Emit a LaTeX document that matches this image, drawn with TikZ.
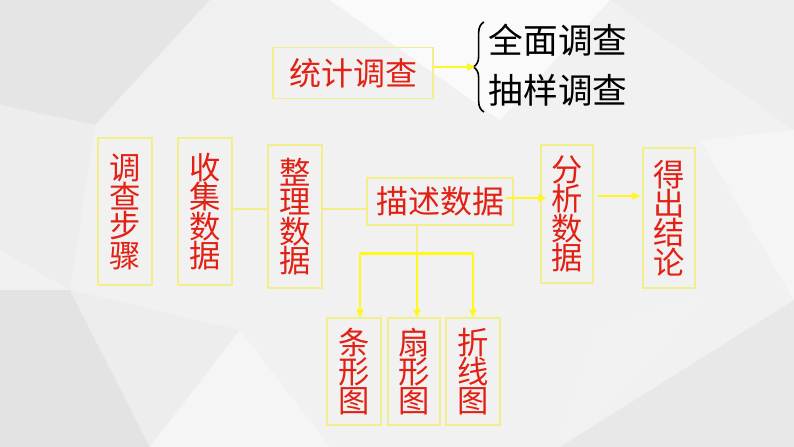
\documentclass[tikz,border=0pt]{standalone}
\usepackage{fontspec}
\newfontfamily\cjk{Noto Sans CJK SC}
\usetikzlibrary{decorations.pathreplacing,calc,arrows.meta}
\definecolor{txtred}{RGB}{226,32,20}
\definecolor{boxy}{RGB}{242,238,140}
\definecolor{arry}{RGB}{255,248,30}
\definecolor{bg}{RGB}{241,241,241}
\begin{document}
\begin{tikzpicture}[x=0.75pt,y=-0.75pt,
  bsize/.style 2 args={minimum width=#1*0.75pt, minimum height=#2*0.75pt},
  vbox/.style={draw=boxy, line width=1.1pt, text=txtred, inner sep=0pt,
    align=center, font=\cjk\fontsize{23.5}{22}\selectfont},
  hbox/.style={draw=boxy, line width=1.1pt, text=txtred, inner sep=0pt,
    font=\cjk\fontsize{24}{26}\selectfont},
  btext/.style={text=black, inner sep=0pt, font=\cjk\fontsize{26}{28}\selectfont},
  arr/.style={draw=arry, line width=2.2pt, -{Triangle[length=6pt,width=5.5pt]}},
  barline/.style={draw=arry, line width=2.2pt},
  thinline/.style={draw=boxy, line width=1.5pt},
  poly/.style={draw=none}]
% background
\fill[bg] (0,0) rectangle (794,447);
\fill[poly,fill=black!10] (0,0) -- (210,0) -- (95,125) -- (0,105) -- cycle;
\fill[poly,fill=black!7] (0,105) -- (95,125) -- (70,290) -- (0,250) -- cycle;
\fill[poly,fill=black!6] (210,0) -- (330,0) -- (95,125) -- cycle;
\fill[poly,fill=black!11] (0,290) -- (70,290) -- (150,447) -- (0,447) -- cycle;
\fill[poly,fill=black!7] (70,290) -- (240,330) -- (150,447) -- cycle;
\fill[poly,fill=black!4] (240,330) -- (330,447) -- (150,447) -- cycle;
\fill[poly,fill=black!7] (610,0) -- (794,0) -- (794,130) -- cycle;
\fill[poly,fill=black!4] (700,140) -- (794,130) -- (794,300) -- cycle;
\fill[poly,fill=black!9] (560,447) -- (794,300) -- (794,447) -- cycle;
\fill[poly,fill=black!5] (600,330) -- (700,300) -- (560,447) -- cycle;
\fill[poly,fill=black!2] (330,0) -- (610,0) -- (500,120) -- cycle;
\useasboundingbox (0,0) rectangle (794,447);

% top: statistical survey
\node[hbox, bsize={160}{51}] (tj) at (353,73) {统计调查};
\node[btext] (qm) at (558,40) {全面调查};
\node[btext] (cy) at (558,90) {抽样调查};
\draw[black, line width=1.2pt, decorate, decoration={brace, amplitude=8pt}]
  (484,112) -- (484,22);
\coordinate (bt) at (475,67);
\draw[arr] (tj.east |- bt) -- (bt);

% main row
\node[vbox, bsize={54}{147}] (s1) at (125,211.5) {调\\查\\步\\骤};
\node[vbox, bsize={54}{147}] (s2) at (205,211.5) {收\\集\\数\\据};
\node[vbox, bsize={54}{143}] (s3) at (295,216.5) {整\\理\\数\\据};
\node[hbox, bsize={146}{47}] (s4) at (440,201.5) {描述数据};
\node[vbox, bsize={52}{138}] (s5) at (567,214) {分\\析\\数\\据};
\node[vbox, bsize={52}{140}] (s6) at (669,218) {得\\出\\结\\论};

% bottom row
\node[vbox, bsize={54}{107}] (b1) at (354,371.5) {条\\形\\图};
\node[vbox, bsize={52}{107}] (b2) at (414,371.5) {扇\\形\\图};
\node[vbox, bsize={54}{107}] (b3) at (473,371.5) {折\\线\\图};

% connectors
\coordinate (m23) at (0,209);
\draw[thinline] (s2.east |- m23) -- (s3.west |- m23);
\draw[thinline] (s3.east |- m23) -- (s4.west |- m23);
\coordinate (m45) at (0,198);
\draw[arr] ($(s4.east |- m45)+(-8,0)$) -- ($(s5.west |- m45)+(6,0)$);
\coordinate (m56) at (0,196);
\draw[arr] ($(s5.east |- m56)+(4,0)$) -- ($(s6.west |- m56)+(-2,0)$);

\coordinate (j) at (417,253);
\draw[thinline] (s4.south -| j) -- (j);
\draw[barline] ($(b1.north)+(6,-64)$) -- ($(b3.north)+(0,-64)$);
\draw[arr] ($(b1.north)+(6,-64)$) -- ($(b1.north)+(6,0)$);
\draw[arr] (j) -- (b2.north -| j);
\draw[arr] ($(b3.north)+(0,-64)$) -- (b3.north);
\end{tikzpicture}
\end{document}
